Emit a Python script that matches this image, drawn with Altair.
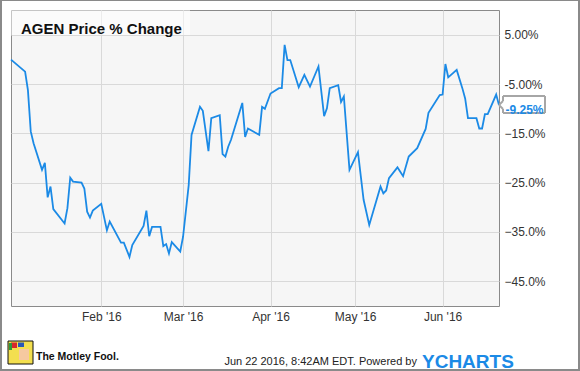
import altair as alt
import pandas as pd

dates = [
    "2015-12-31", "2016-01-05", "2016-01-06", "2016-01-07", "2016-01-08", "2016-01-11",
    "2016-01-12", "2016-01-13", "2016-01-14", "2016-01-15", "2016-01-19", "2016-01-20",
    "2016-01-21", "2016-01-22", "2016-01-25", "2016-01-26", "2016-01-27", "2016-01-28",
    "2016-01-29", "2016-02-01", "2016-02-03", "2016-02-04", "2016-02-08", "2016-02-09",
    "2016-02-11", "2016-02-12", "2016-02-16", "2016-02-17", "2016-02-18", "2016-02-19",
    "2016-02-22", "2016-02-23", "2016-02-24", "2016-02-25", "2016-02-26", "2016-02-29",
    "2016-03-01", "2016-03-03", "2016-03-04", "2016-03-07", "2016-03-08", "2016-03-10",
    "2016-03-11", "2016-03-14", "2016-03-15", "2016-03-16", "2016-03-17", "2016-03-18",
    "2016-03-22", "2016-03-23", "2016-03-24", "2016-03-28", "2016-03-29", "2016-03-30",
    "2016-04-01", "2016-04-04", "2016-04-05", "2016-04-06", "2016-04-07", "2016-04-08",
    "2016-04-11", "2016-04-13", "2016-04-15", "2016-04-18", "2016-04-20", "2016-04-21",
    "2016-04-22", "2016-04-25", "2016-04-26", "2016-04-27", "2016-04-29", "2016-05-02",
    "2016-05-04", "2016-05-06", "2016-05-10", "2016-05-11", "2016-05-12", "2016-05-13",
    "2016-05-16", "2016-05-17", "2016-05-18", "2016-05-20", "2016-05-23", "2016-05-26",
    "2016-05-27", "2016-05-31", "2016-06-01", "2016-06-02", "2016-06-03", "2016-06-06",
    "2016-06-08", "2016-06-09", "2016-06-10", "2016-06-13", "2016-06-14", "2016-06-15",
    "2016-06-16", "2016-06-17", "2016-06-20", "2016-06-21",
]
pct_change = [
    0.0, -2.45, -6.2, -14.6, -17.0, -22.4,
    -21.0, -28.0, -25.8, -30.4, -33.3, -30.2,
    -24.0, -24.8, -25.0, -26.2, -30.9, -32.1,
    -30.7, -29.3, -34.7, -32.9, -37.2, -37.2,
    -40.1, -37.7, -33.8, -30.7, -35.9, -34.0,
    -34.0, -37.9, -37.5, -39.4, -37.1, -39.0,
    -36.0, -25.5, -15.3, -9.6, -10.4, -18.6,
    -11.9, -11.3, -19.2, -19.7, -17.7, -16.3,
    -8.8, -15.7, -14.0, -15.3, -9.6, -10.0,
    -6.9, -5.8, -5.8, 3.0, -0.1, -0.1,
    -5.6, -3.1, -5.5, -1.4, -11.5, -9.9,
    -5.8, -5.2, -8.6, -7.5, -22.4, -18.8,
    -28.5, -33.6, -25.8, -27.2, -26.6, -24.1,
    -21.9, -22.8, -23.7, -19.7, -18.0, -14.1,
    -10.8, -7.2, -7.1, -0.9, -3.6, -2.1,
    -5.8, -7.9, -11.9, -11.9, -14.0, -14.0,
    -11.1, -11.1, -7.1, -9.25,
]
y_ticks = [5, -5, -15, -25, -35, -45]
month_ticks = [(2016, 2), (2016, 3), (2016, 4), (2016, 5), (2016, 6)]
title_text = "AGEN Price % Change"
last_label = "-9.25%"
footer_text = "Jun 22 2016, 8:42AM EDT.  Powered by"
brand_text = "YCHARTS"
fool_text = "The Motley Fool."

df = pd.DataFrame({"date": dates, "pct": pct_change})

FONT = "Liberation Sans"
BLUE = "#1b8ae6"
GREY = "#8a8a8a"
W, H = 488, 296

x_scale = alt.Scale(
    type="utc",
    domain=[alt.DateTime(year=2015, month=12, date=31, utc=True),
            alt.DateTime(year=2016, month=6, date=21, utc=True)],
)
y_scale = alt.Scale(domain=[-50.08, 10.08], nice=False, zero=False)

line = alt.Chart(df).mark_line(color=BLUE, strokeWidth=1.8).encode(
    x=alt.X("date:T", scale=x_scale, axis=alt.Axis(
        values=[alt.DateTime(year=y, month=m, date=1, utc=True) for y, m in month_ticks],
        labelExpr="utcFormat(datum.value, \"%b '%y\")",
        title=None, grid=True, ticks=False,
        domain=False, labelPadding=5, labelFontSize=12, labelColor="#333", labelFont=FONT)),
    y=alt.Y("pct:Q", scale=y_scale, axis=alt.Axis(
        orient="right", values=y_ticks, title=None, grid=True, ticks=False, domain=False,
        labelExpr="datum.value == 5 ? '5.00%' : datum.value == -5 ? '-5.00%' : format(datum.value, '.1f') + '%'",
        labelPadding=5, labelFontSize=12, labelColor="#333", labelFont=FONT)),
)

def one():
    return pd.DataFrame({"k": [0]})

def box(x, x2, y, y2, **kw):
    return alt.Chart(one()).mark_rect(**kw).encode(
        x=alt.value(x), x2=alt.value(x2), y=alt.value(y), y2=alt.value(y2))

def seg(x, x2, y, y2, color=GREY, width=1.0):
    return alt.Chart(one()).mark_rule(color=color, strokeWidth=width).encode(
        x=alt.value(x), x2=alt.value(x2), y=alt.value(y), y2=alt.value(y2))

def label(text, x, y, **kw):
    return alt.Chart(one()).mark_text(text=text, **kw).encode(
        x=alt.value(x), y=alt.value(y))

title_bg = box(0, 179, 0, 25, fill="white", opacity=0.5)
title = label(title_text, 10, 19, font=FONT, fontSize=15, fontWeight="bold", color="#111", align="left")

# end-value callout (outline drawn with rules)
CALL = "#a6a6a6"
CW = 2
bx0, bx1, by0, by1, tip_x, tip_y = 492, 534, 86, 103, 488, 95
callout = [
    seg(bx0, bx1, by0, by0, CALL, CW),
    seg(bx0, bx1, by1, by1, CALL, CW),
    seg(bx1, bx1, by0, by1, CALL, CW),
    seg(bx0, bx0, by0, tip_y - 4, CALL, CW),
    seg(bx0, bx0, tip_y + 4, by1, CALL, CW),
    seg(bx0, tip_x, tip_y - 4, tip_y, CALL, CW),
    seg(tip_x, bx0, tip_y, tip_y + 4, CALL, CW),
]
callout_text = label(last_label, 513.5, 99.5, font=FONT, fontSize=12, fontWeight="bold", color=BLUE, align="center")

# outer frame
FW = 2
frame = [
    seg(-11, 569, -10, -10, GREY, FW),
    seg(-11, 569, 360, 360, GREY, FW),
    seg(-10, -10, -10, 360, GREY, FW),
    seg(568, 568, -10, 360, GREY, FW),
]

# footer
footer = label(footer_text, 406, 351.5, font=FONT, fontSize=11, color="#222", align="right")
brand = label(brand_text, 411, 352, font=FONT, fontSize=19, fontWeight=900, color=BLUE, align="left")
logo = box(-3, 22, 331, 354, fill="#f3df4f", stroke="#111", strokeWidth=1)
logo_r = box(0, 6, 332.5, 338, fill="#d8262b")
logo_b = box(7, 13, 332.5, 337, fill="#2857b8")
logo_g = box(-2, 1, 333, 340, fill="#2e9a3c")
logo_face = box(8, 18, 339, 350, fill="#f6c9a0")
fool = label(fool_text, 25, 347, font=FONT, fontSize=10.5, fontWeight="bold", color="#111", align="left")

chart = alt.layer(
    line, title_bg, title, *frame, *callout, callout_text,
    footer, brand, logo, logo_r, logo_b, logo_g, logo_face, fool,
).properties(
    width=W, height=H,
    autosize=alt.AutoSizeParams(type="none"),
    padding={"left": 11, "top": 10, "right": 81, "bottom": 65},
    background="white",
).configure_view(
    fill="#f6f6f6", stroke=GREY, strokeWidth=1,
).configure_axis(
    gridColor="#d9d9d9", gridWidth=1,
)

chart.save("out.html", embed_options={"renderer": "svg", "actions": False})
